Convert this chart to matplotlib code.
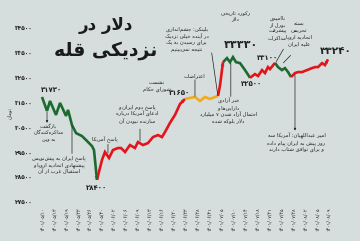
import re

import matplotlib
matplotlib.use("Agg")
import matplotlib.pyplot as plt

BG = "#d5dedc"
GREEN = "#1d6a30"
RED = "#e3141b"
ORANGE = "#f2aa1c"
INK = "#222222"

# ---- data -----------------------------------------------------------------
DATES = ["۱۴۰۱/۰۵/۱۰", "۱۴۰۱/۰۵/۱۳", "۱۴۰۱/۰۵/۱۹", "۱۴۰۱/۰۵/۲۳", "۱۴۰۱/۰۵/۲۶",
         "۱۴۰۱/۰۵/۳۰", "۱۴۰۱/۰۶/۰۲", "۱۴۰۱/۰۶/۰۶", "۱۴۰۱/۰۶/۰۹", "۱۴۰۱/۰۶/۱۳",
         "۱۴۰۱/۰۶/۱۶", "۱۴۰۱/۰۶/۲۰", "۱۴۰۱/۰۶/۲۳", "۱۴۰۱/۰۶/۲۸", "۱۴۰۱/۰۶/۳۱",
         "۱۴۰۱/۰۷/۰۵", "۱۴۰۱/۰۷/۱۰", "۱۴۰۱/۰۷/۱۴", "۱۴۰۱/۰۷/۱۸", "۱۴۰۱/۰۷/۲۱",
         "۱۴۰۱/۰۷/۲۵", "۱۴۰۱/۰۷/۲۸", "۱۴۰۱/۰۸/۰۲", "۱۴۰۱/۰۸/۰۵", "۱۴۰۱/۰۸/۰۹"]

Y_TICKS = [27500, 28500, 29500, 30500, 31500, 32500, 33500, 34500]

# position along the date axis (in label steps) and dollar rate in toman
PRICE_X = [0.00, 0.42, 0.67, 1.17, 1.51, 2.01, 2.18, 2.51, 2.85, 3.35, 3.77, 4.18, 4.35, 4.60,
           5.02, 5.27, 5.61, 5.94, 6.36, 6.61, 6.95, 7.36, 7.78, 8.03, 8.45, 8.87, 9.29, 9.71,
           10.04, 10.29, 10.71, 11.13, 11.55, 11.97,
           12.38, 12.80, 13.22, 13.64, 14.06, 14.48, 14.73,
           14.90, 15.06, 15.15,
           15.48, 15.73, 15.98, 16.23, 16.57, 16.99, 17.41,
           17.82, 18.08, 18.41, 18.66, 18.91, 19.08, 19.50,
           19.75, 20.08, 20.33, 20.59, 20.84,
           21.17, 21.42, 21.76, 22.18, 22.59, 22.85, 23.10, 23.43, 23.68, 23.93]
PRICE_Y = [31730, 31170, 31570, 31010, 31490, 30970, 31210, 30600, 30280, 30160, 29960, 29760, 29600, 28400,
           29200, 29520, 29280, 29600, 29680, 29680, 29520, 29800, 29680, 29920, 29800, 29880, 30120, 30200,
           30120, 30320, 30690, 31010, 31450, 31650,
           31690, 31730, 31570, 31730, 31650, 31730, 31770,
           32210, 32810, 33130,
           33290, 33130, 33330, 33130, 33090, 32810, 32500,
           32650, 32570, 32810, 32690, 32930, 32850, 33100,
           32930, 32810, 32890, 32730, 32530,
           32690, 32730, 32730, 32810, 32890, 32930, 32930, 33090, 33010, 33240]

SEGMENT_BREAKS = [0, 13, 33, 40, 43, 50, 57, 62, 72]
SEGMENT_COLORS = [GREEN, RED, ORANGE, RED, GREEN, RED, GREEN, RED]
ARROW_SEGMENTS = [0, 1, 3, 7]

# ---- persian shaping (matplotlib has no bidi / joining) ------------------
_FORMS = {
    "ء": ("\uFE80", None, None, None), "آ": ("\uFE81", "\uFE82", None, None),
    "أ": ("\uFE83", "\uFE84", None, None), "ؤ": ("\uFE85", "\uFE86", None, None),
    "ئ": ("\uFE89", "\uFE8A", "\uFE8B", "\uFE8C"), "ا": ("\uFE8D", "\uFE8E", None, None),
    "ب": ("\uFE8F", "\uFE90", "\uFE91", "\uFE92"), "ة": ("\uFE93", "\uFE94", None, None),
    "ت": ("\uFE95", "\uFE96", "\uFE97", "\uFE98"), "ث": ("\uFE99", "\uFE9A", "\uFE9B", "\uFE9C"),
    "ج": ("\uFE9D", "\uFE9E", "\uFE9F", "\uFEA0"), "ح": ("\uFEA1", "\uFEA2", "\uFEA3", "\uFEA4"),
    "خ": ("\uFEA5", "\uFEA6", "\uFEA7", "\uFEA8"), "د": ("\uFEA9", "\uFEAA", None, None),
    "ذ": ("\uFEAB", "\uFEAC", None, None), "ر": ("\uFEAD", "\uFEAE", None, None),
    "ز": ("\uFEAF", "\uFEB0", None, None), "س": ("\uFEB1", "\uFEB2", "\uFEB3", "\uFEB4"),
    "ش": ("\uFEB5", "\uFEB6", "\uFEB7", "\uFEB8"), "ص": ("\uFEB9", "\uFEBA", "\uFEBB", "\uFEBC"),
    "ض": ("\uFEBD", "\uFEBE", "\uFEBF", "\uFEC0"), "ط": ("\uFEC1", "\uFEC2", "\uFEC3", "\uFEC4"),
    "ظ": ("\uFEC5", "\uFEC6", "\uFEC7", "\uFEC8"), "ع": ("\uFEC9", "\uFECA", "\uFECB", "\uFECC"),
    "غ": ("\uFECD", "\uFECE", "\uFECF", "\uFED0"), "ف": ("\uFED1", "\uFED2", "\uFED3", "\uFED4"),
    "ق": ("\uFED5", "\uFED6", "\uFED7", "\uFED8"), "ل": ("\uFEDD", "\uFEDE", "\uFEDF", "\uFEE0"),
    "م": ("\uFEE1", "\uFEE2", "\uFEE3", "\uFEE4"), "ن": ("\uFEE5", "\uFEE6", "\uFEE7", "\uFEE8"),
    "ه": ("\uFEE9", "\uFEEA", "\uFEEB", "\uFEEC"), "و": ("\uFEED", "\uFEEE", None, None),
    "پ": ("\uFB56", "\uFB57", "\uFB58", "\uFB59"), "چ": ("\uFB7A", "\uFB7B", "\uFB7C", "\uFB7D"),
    "ژ": ("\uFB8A", "\uFB8B", None, None), "ک": ("\uFB8E", "\uFB8F", "\uFB90", "\uFB91"),
    "گ": ("\uFB92", "\uFB93", "\uFB94", "\uFB95"), "ی": ("\uFBFC", "\uFBFD", "\uFBFE", "\uFBFF"),
}
_LAM_ALEF = {"ا": ("\uFEFB", "\uFEFC"), "آ": ("\uFEF5", "\uFEF6"), "أ": ("\uFEF7", "\uFEF8")}


def _joins_next(c):
    f = _FORMS.get(c)
    return f is not None and f[2] is not None


def fa(line):
    out, i, n = [], 0, len(line)
    while i < n:
        c = line[i]
        f = _FORMS.get(c)
        if f is None:
            out.append(c)
            i += 1
            continue
        p = i > 0 and _joins_next(line[i - 1])
        if c == "ل" and i + 1 < n and line[i + 1] in _LAM_ALEF:
            iso, fin = _LAM_ALEF[line[i + 1]]
            out.append(fin if p else iso)
            i += 2
            continue
        nx = i + 1 < n and line[i + 1] in _FORMS and line[i + 1] != "ء"
        if p and nx and f[2]:
            out.append(f[3])
        elif p:
            out.append(f[1] or f[0])
        elif nx and f[2]:
            out.append(f[2])
        else:
            out.append(f[0])
        i += 1
    s = "".join(out).replace("\u200c", "")[::-1]
    return re.sub(r"[0-9\u06F0-\u06F9/.]+", lambda m: m.group(0)[::-1], s)


def fa_num(v):
    return str(v).translate(str.maketrans("0123456789", "۰۱۲۳۴۵۶۷۸۹"))


def ptext(ax, lines, x, y, size=3.8, bold=False, color=INK, va="top", ls=1.3):
    ax.text(x, y, "\n".join(fa(t) for t in lines), ha="center", va=va,
            fontsize=size, fontweight="bold" if bold else "normal",
            color=color, linespacing=ls, family="DejaVu Sans")


def pointer(ax, x0, y0, x1, y1, head=False):
    ax.annotate("", xy=(x1, y1), xytext=(x0, y0),
                arrowprops=dict(arrowstyle="-|>" if head else "-", color=INK,
                                lw=0.5, mutation_scale=3, shrinkA=0, shrinkB=0))


# ---- figure ---------------------------------------------------------------
fig = plt.figure(figsize=(3.6, 2.41), dpi=100)
fig.patch.set_facecolor(BG)
ax = fig.add_axes([0.1, 0.1452, 0.9, 0.8548])
ax.set_facecolor(BG)
ax.set_xlim(-0.502, 26.61)
ax.set_ylim(27352, 35624)
for s in ax.spines.values():
    s.set_visible(False)

ax.set_yticks(Y_TICKS)
ax.set_yticklabels([fa_num(v) for v in Y_TICKS], fontsize=4.2, fontweight="bold", color=INK)
ax.set_xticks(range(len(DATES)))
ax.set_xticklabels(DATES, rotation=90, fontsize=3.4, color=INK)
ax.tick_params(axis="y", length=0, pad=2.2)
ax.tick_params(axis="x", length=0, pad=1)

for k, col in enumerate(SEGMENT_COLORS):
    a, b = SEGMENT_BREAKS[k], SEGMENT_BREAKS[k + 1]
    ax.plot(PRICE_X[a:b + 1], PRICE_Y[a:b + 1], color=col, lw=1.9,
            solid_joinstyle="miter", solid_capstyle="butt", zorder=3)
    if k in ARROW_SEGMENTS:
        ax.annotate("", xy=(PRICE_X[b], PRICE_Y[b]), xytext=(PRICE_X[b - 1], PRICE_Y[b - 1]),
                    arrowprops=dict(arrowstyle="-|>", color=col, lw=0, mutation_scale=7,
                                    shrinkA=0, shrinkB=0), zorder=4)

# title
ax.text(5.3, 34620, fa("دلار در"), ha="center", va="center", fontsize=12,
        fontweight="bold", color="#1a1a1a")
ax.text(5.3, 33600, fa("نزدیکی قله"), ha="center", va="center", fontsize=13.5,
        fontweight="bold", color="#1a1a1a")

# y axis unit
ax.text(-2.75, 31100, fa("تومان"), rotation=90, ha="center", va="center",
        fontsize=3.6, color=INK)

# value labels
ptext(ax, ["۳۱۷۳۰"], 0.84, 32010, size=5, bold=True, va="center")
ptext(ax, ["۲۸۴۰۰"], 4.6, 28070, size=5, bold=True, va="center")
ptext(ax, ["۳۱۶۵۰"], 11.55, 31890, size=5, bold=True, va="center")
ptext(ax, ["۳۳۳۳۰"], 16.65, 33800, size=8, bold=True, va="center")
ptext(ax, ["۳۲۵۰۰"], 17.5, 32250, size=5, bold=True, va="center")
ptext(ax, ["۳۳۱۰۰"], 18.9, 33300, size=5, bold=True, va="center")
ptext(ax, ["۳۳۲۴۰"], 24.55, 33560, size=7.5, bold=True, va="center")

# event notes
ptext(ax, ["بازگشت", "مذاکره‌کنندگان", "به وین"], 0.55, 30650, size=3.6)
pointer(ax, 0.42, 31120, 0.42, 30690, head=True)

ptext(ax, ["پاسخ ایران به پیش‌نویس", "پیشنهادی اتحادیه اروپا و", "استقبال غرب از آن"], 1.4, 29400)
pointer(ax, 2.51, 30560, 2.51, 29460)

ptext(ax, ["پاسخ آمریکا"], 5.3, 30000, va="center")
pointer(ax, 5.52, 29830, 5.52, 29480)

ptext(ax, ["پاسخ دوم ایران و", "ادعای آمریکا درباره", "سازنده نبودن آن"], 7.95, 31450)
pointer(ax, 8.2, 30440, 8.2, 29960)

ptext(ax, ["نشست", "شورای حکام"], 9.6, 32400)

ptext(ax, ["اعتراضات"], 12.8, 32600, va="center")
pointer(ax, 12.8, 32420, 12.8, 31760)

ptext(ax, ["بلینکن: چشم‌اندازی", "در آینده خیلی نزدیک", "برای رسیدن به یک", "نتیجه نمی‌بینیم"], 12.1, 34550)
pointer(ax, 14.2, 33500, 14.7, 31830)

ptext(ax, ["رکورد تاریخی", "دلار"], 16.2, 35200)

ptext(ax, ["خبر آزادی", "دارایی‌ها و", "احتمال آزاد شدن ۷ میلیارد", "دلار بلوکه شده"], 15.6, 31700)
pointer(ax, 15.8, 33080, 15.8, 31750)

ptext(ax, ["ناامیدی", "بورل از", "پیشرفت", "مذاکرات"], 19.7, 35000)
pointer(ax, 20.2, 33650, 19.6, 33150)

ptext(ax, ["بسته", "تحریمی", "اتحادیه اروپا", "علیه ایران"], 21.5, 34750)
pointer(ax, 20.8, 33400, 20.2, 33100)

ptext(ax, ["امیر عبداللهیان: آمریکا سه", "روز پیش به ایران پیام داده", "و برای توافق شتاب دارند"], 21.3, 30300)
pointer(ax, 21.17, 32620, 21.17, 30380, head=True)

fig.savefig("out.png", dpi=100, facecolor=BG)
